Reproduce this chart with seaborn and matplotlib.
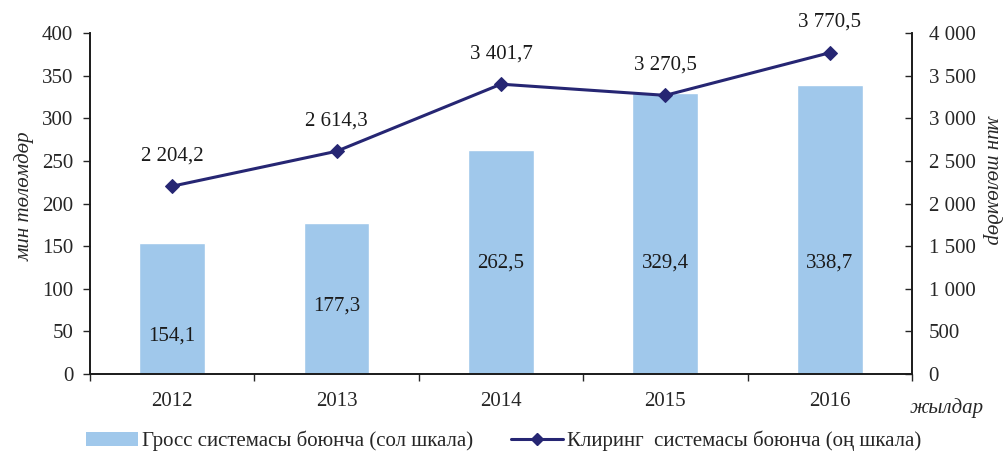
import numpy as np
import pandas as pd
import matplotlib
matplotlib.use("Agg")
from matplotlib import pyplot as plt
from matplotlib.lines import Line2D
from matplotlib.patches import Patch
import seaborn as sns

# data
years = ['2012', '2013', '2014', '2015', '2016']
gross = [154.1, 177.3, 262.5, 329.4, 338.7]
clearing = [2204.2, 2614.3, 3401.7, 3270.5, 3770.5]
gross_labels = ['154,1', '177,3', '262,5', '329,4', '338,7']
clearing_labels = ['2 204,2', '2 614,3', '3 401,7', '3 270,5', '3 770,5']
left_ticks = [0, 50, 100, 150, 200, 250, 300, 350, 400]
right_ticks = [0, 500, 1000, 1500, 2000, 2500, 3000, 3500, 4000]
right_ticklabels = ['0', '500', '1 000', '1 500', '2 000', '2 500', '3 000', '3 500', '4 000']

# where the bar value labels sit (left-axis units)
gross_label_y = [45, 80, 130, 130, 130]

bar_color = '#a0c8eb'
line_color = '#262673'
fs = 15

sns.set_style('white')
plt.rcParams['font.family'] = ['Liberation Serif', 'DejaVu Serif']

df = pd.DataFrame({'year': years, 'gross': gross, 'clearing': clearing})

fig = plt.figure(figsize=(10.07, 4.61), dpi=100)
ax = fig.add_axes([0.0894, 0.1887, 0.8162, 0.7393])

sns.barplot(data=df, x='year', y='gross', color=bar_color, width=0.4,
            saturation=1, ax=ax)
ax.set_ylim(0, 400)
ax.set_yticks(left_ticks)
ax.set_xlim(-0.5, 4.5)
ax.set_xlabel('')
ax.set_ylabel('мин төлөмдөр', fontstyle='italic', fontsize=fs)
ax.yaxis.set_label_coords(-0.068, 0.522)
ax.tick_params(axis='y', labelsize=fs, direction='out', length=5, width=1, pad=7,
               left=True)
ax.tick_params(axis='x', labelsize=fs, length=0, pad=13)
# x ticks at the category boundaries
ax.set_xticks(np.arange(-0.5, 5, 1), minor=True)
ax.tick_params(axis='x', which='minor', direction='out', length=5, width=1,
               bottom=True)

for i, (lab, yy) in enumerate(zip(gross_labels, gross_label_y)):
    ax.text(i, yy, lab, ha='center', va='center', fontsize=fs, color='#1a1a1a')

ax2 = ax.twinx()
sns.lineplot(x=np.arange(len(years)), y=clearing, color=line_color, marker='D',
             markersize=7, linewidth=2.2, markeredgecolor=line_color, ax=ax2)
ax2.set_ylim(0, 4000)
ax2.set_yticks(right_ticks)
ax2.set_yticklabels(right_ticklabels)
ax2.set_ylabel('мин төлөмдөр', fontstyle='italic', fontsize=fs, rotation=270,
               va='center')
ax2.yaxis.set_label_coords(1.0985, 0.569)
ax2.tick_params(axis='y', labelsize=fs, direction='in', length=5, width=1, pad=12)
ax2.set_xlim(-0.5, 4.5)

for i, (lab, v) in enumerate(zip(clearing_labels, clearing)):
    ax2.annotate(lab, (i, v), xytext=(0, 22), textcoords='offset points',
                 ha='center', va='center', fontsize=fs, color='#1a1a1a')

for a in (ax, ax2):
    a.spines['top'].set_visible(False)
    for side in ('left', 'right', 'bottom'):
        a.spines[side].set_color('#1a1a1a')
        a.spines[side].set_linewidth(1.2)

fig.text(0.94, 0.115, 'жылдар', fontstyle='italic', fontsize=fs, ha='center',
         va='center')

handles = [Patch(facecolor=bar_color, edgecolor='none'),
           Line2D([0], [0], color=line_color, marker='D', markersize=6, linewidth=2.2)]
fig.legend(handles, ['Гросс системасы боюнча (сол шкала)',
                     'Клиринг  системасы боюнча (оң шкала)'],
           loc='center', bbox_to_anchor=(0.5, 0.043), ncol=2, frameon=False,
           fontsize=fs, handlelength=2.5, columnspacing=1.8, handletextpad=0.2)

fig.savefig('out.png', dpi=100)
